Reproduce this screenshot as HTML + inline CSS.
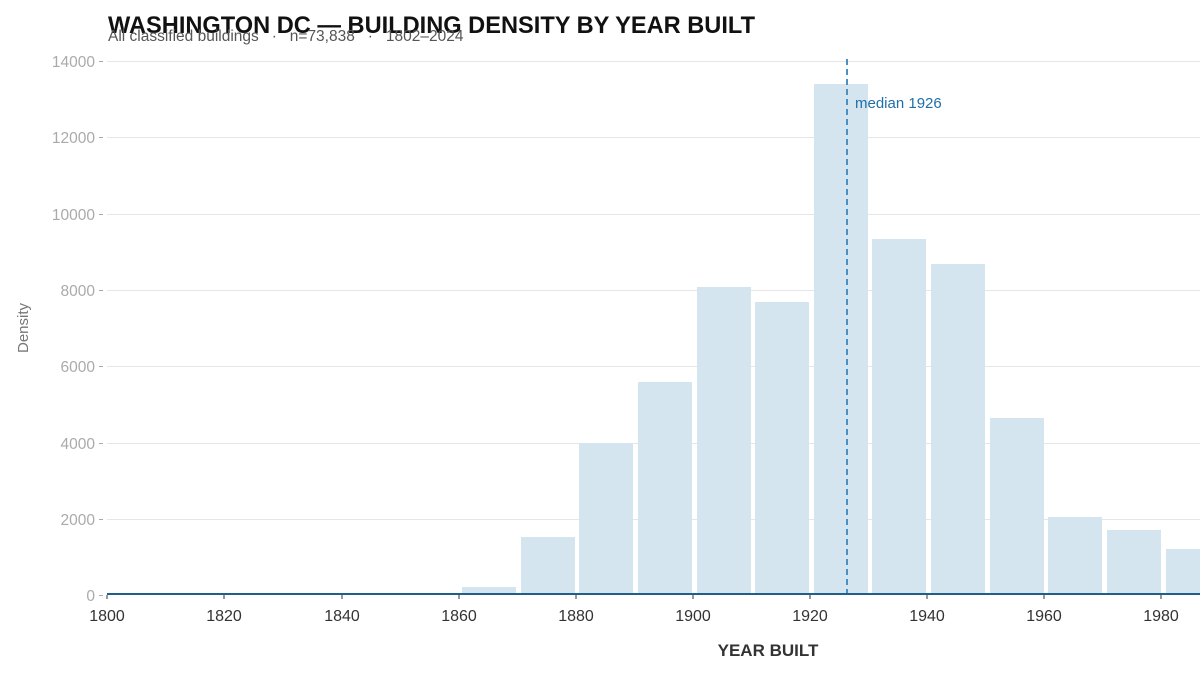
<!DOCTYPE html><html><head><style>body{margin:0;background:#fff}svg{display:block}text{font-family:"Liberation Sans",sans-serif}</style></head><body>
<svg width="1200" height="675" xmlns="http://www.w3.org/2000/svg">
<g stroke="#e6e6e6" stroke-width="1">
<line x1="107" x2="1200" y1="61.5" y2="61.5"/><line x1="107" x2="1200" y1="137.5" y2="137.5"/><line x1="107" x2="1200" y1="214.5" y2="214.5"/><line x1="107" x2="1200" y1="290.5" y2="290.5"/><line x1="107" x2="1200" y1="366.5" y2="366.5"/><line x1="107" x2="1200" y1="443.5" y2="443.5"/><line x1="107" x2="1200" y1="519.5" y2="519.5"/>
</g>
<g fill="#aaa" font-size="15.5" text-anchor="end">
<text x="95" y="67">14000</text><text x="95" y="143">12000</text><text x="95" y="220">10000</text><text x="95" y="296">8000</text><text x="95" y="372">6000</text><text x="95" y="449">4000</text><text x="95" y="525">2000</text><text x="95" y="601">0</text>
</g>
<g stroke="#aaa"><line x1="99" x2="103" y1="61.5" y2="61.5"/><line x1="99" x2="103" y1="137.5" y2="137.5"/><line x1="99" x2="103" y1="214.5" y2="214.5"/><line x1="99" x2="103" y1="290.5" y2="290.5"/><line x1="99" x2="103" y1="366.5" y2="366.5"/><line x1="99" x2="103" y1="443.5" y2="443.5"/><line x1="99" x2="103" y1="519.5" y2="519.5"/><line x1="99" x2="103" y1="595.5" y2="595.5"/></g>
<g fill="#d5e5f0">
<rect x="462" y="587" width="54" height="8"/>
<rect x="521" y="537" width="54" height="58"/>
<rect x="579" y="443" width="54" height="152"/>
<rect x="638" y="382" width="54" height="213"/>
<rect x="697" y="287" width="54" height="308"/>
<rect x="755" y="302" width="54" height="293"/>
<rect x="814" y="84" width="54" height="511"/>
<rect x="872" y="239" width="54" height="356"/>
<rect x="931" y="264" width="54" height="331"/>
<rect x="990" y="418" width="54" height="177"/>
<rect x="1048" y="517" width="54" height="78"/>
<rect x="1107" y="530" width="54" height="65"/>
<rect x="1166" y="549" width="54" height="46"/>
</g>
<line x1="847" x2="847" y1="59" y2="595" stroke="#4a90c4" stroke-width="2" stroke-dasharray="6,4"/>
<text x="855" y="108" fill="#1f6fa8" font-size="15">median 1926</text>
<line x1="107" x2="1200" y1="594" y2="594" stroke="#1f5f8b" stroke-width="2"/>
<g stroke="#333"><line x1="107" x2="107" y1="595" y2="599"/><line x1="224" x2="224" y1="595" y2="599"/><line x1="342" x2="342" y1="595" y2="599"/><line x1="459" x2="459" y1="595" y2="599"/><line x1="576" x2="576" y1="595" y2="599"/><line x1="693" x2="693" y1="595" y2="599"/><line x1="810" x2="810" y1="595" y2="599"/><line x1="927" x2="927" y1="595" y2="599"/><line x1="1044" x2="1044" y1="595" y2="599"/><line x1="1161" x2="1161" y1="595" y2="599"/></g>
<g fill="#333" font-size="16" text-anchor="middle">
<text x="107" y="621">1800</text><text x="224" y="621">1820</text><text x="342" y="621">1840</text><text x="459" y="621">1860</text><text x="576" y="621">1880</text><text x="693" y="621">1900</text><text x="810" y="621">1920</text><text x="927" y="621">1940</text><text x="1044" y="621">1960</text><text x="1161" y="621">1980</text>
</g>
<text x="768" y="656" fill="#333" font-size="17" font-weight="bold" text-anchor="middle">YEAR BUILT</text>
<text transform="translate(28,328) rotate(-90)" fill="#777" font-size="15" text-anchor="middle">Density</text>
<text x="108" y="33" fill="#111" font-size="24" font-weight="bold" textLength="647" lengthAdjust="spacingAndGlyphs">WASHINGTON DC — BUILDING DENSITY BY YEAR BUILT</text>
<text x="108" y="41" fill="#555" font-size="15.5" xml:space="preserve" style="white-space:pre">All classified buildings   ·   n=73,838   ·   1802–2024</text>
</svg></body></html>
